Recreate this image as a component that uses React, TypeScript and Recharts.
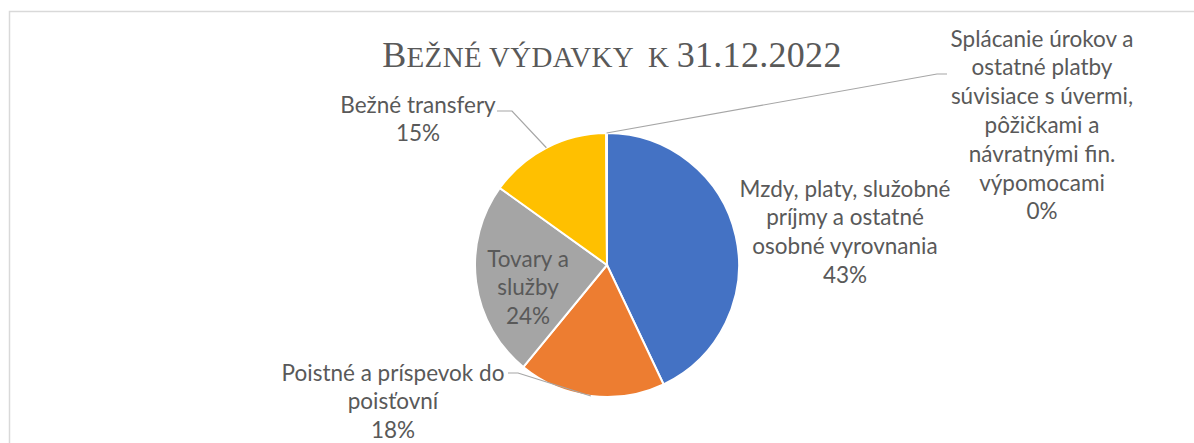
import React from "react";
import { PieChart, Pie, Cell } from "recharts";

const categories = [
  "Mzdy, platy, služobné príjmy a ostatné osobné vyrovnania",
  "Poistné a príspevok do poisťovní",
  "Tovary a služby",
  "Bežné transfery",
  "Splácanie úrokov a ostatné platby súvisiace s úvermi, pôžičkami a návratnými fin. výpomocami",
];
const values = [43, 18, 24, 15, 0.1];
const labelLines = [
  ["Mzdy, platy, služobné", "príjmy a ostatné", "osobné vyrovnania"],
  ["Poistné a príspevok do", "poisťovní"],
  ["Tovary a", "služby"],
  ["Bežné transfery"],
  ["Splácanie úrokov a", "ostatné platby", "súvisiace s úvermi,", "pôžičkami a", "návratnými fin.", "výpomocami"],
];
const colors = ["#4472C4", "#ED7D31", "#A5A5A5", "#FFC000", "#5B9BD5"];

const data = categories.map((name, i) => ({ name, value: values[i] }));

// label placement relative to the pie centre (text centre x, first line y) + leader elbows
const labelLayout = [
  { x: 238, y: -77, lead: [] as number[][] },
  { x: -214, y: 107, lead: [[-89, 108], [-99, 108]] },
  { x: -79, y: -7, lead: [] as number[][] },
  { x: -189, y: -161, lead: [[-95, -154], [-110, -154]] },
  { x: 435, y: -227, lead: [[330, -191], [340, -191]] },
];

const TEXT = "#595959";
const LINE_H = 28.8;
const RAD = Math.PI / 180;

function renderLabel(props: any) {
  const { cx, cy, midAngle, outerRadius, percent, index } = props;
  const lay = labelLayout[index];
  const lines = [...labelLines[index], `${Math.round(percent * 100)}%`];
  const sx = cx + outerRadius * Math.cos(-midAngle * RAD);
  const sy = cy + outerRadius * Math.sin(-midAngle * RAD);
  const pts = [[sx, sy], ...lay.lead.map(([dx, dy]) => [cx + dx, cy + dy])];
  return (
    <g key={`lbl-${index}`}>
      {lay.lead.length > 0 && (
        <polyline
          points={pts.map((p) => p.join(",")).join(" ")}
          fill="none"
          stroke="#A6A6A6"
          strokeWidth={1.2}
        />
      )}
      <text
        x={cx + lay.x}
        y={cy + lay.y}
        textAnchor="middle"
        fill={TEXT}
        fontFamily="Lato, 'Open Sans', sans-serif"
        fontSize={22.5}
      >
        {lines.map((l, i) => (
          <tspan key={i} x={cx + lay.x} y={cy + lay.y + i * LINE_H} dominantBaseline="central">
            {l}
          </tspan>
        ))}
      </text>
    </g>
  );
}

export default function App() {
  return (
    <div style={{ position: "absolute", left: 0, top: 0, width: 1194, height: 443, background: "#fff" }}>
      <svg width={1194} height={443} style={{ position: "absolute", left: 0, top: 0 }}>
        <polyline points="9.5,443 9.5,11.5 1194,11.5" fill="none" stroke="#D9D9D9" strokeWidth={1.5} />
        <text
          x={612}
          y={67}
          textAnchor="middle"
          fill={TEXT}
          fontFamily="'Liberation Serif', 'Times New Roman', serif"
          fontSize={36}
          letterSpacing={0.3}
          style={{ whiteSpace: "pre" }}
        >
          <tspan>B</tspan>
          <tspan fontSize={29}>{"EŽNÉ VÝDAVKY  K "}</tspan>
          <tspan>31.12.2022</tspan>
        </text>
      </svg>
      <div style={{ position: "absolute", left: 0, top: 0 }}>
        <PieChart width={1194} height={443} margin={{ top: 0, right: 0, bottom: 0, left: 0 }}>
          <Pie
            data={data}
            dataKey="value"
            nameKey="name"
            cx={607}
            cy={265}
            outerRadius={132}
            startAngle={90}
            endAngle={-270}
            stroke="#FFFFFF"
            strokeWidth={2}
            label={renderLabel}
            labelLine={false}
            isAnimationActive={false}
          >
            {data.map((d, i) => (
              <Cell key={d.name} fill={colors[i]} />
            ))}
          </Pie>
        </PieChart>
      </div>
    </div>
  );
}
